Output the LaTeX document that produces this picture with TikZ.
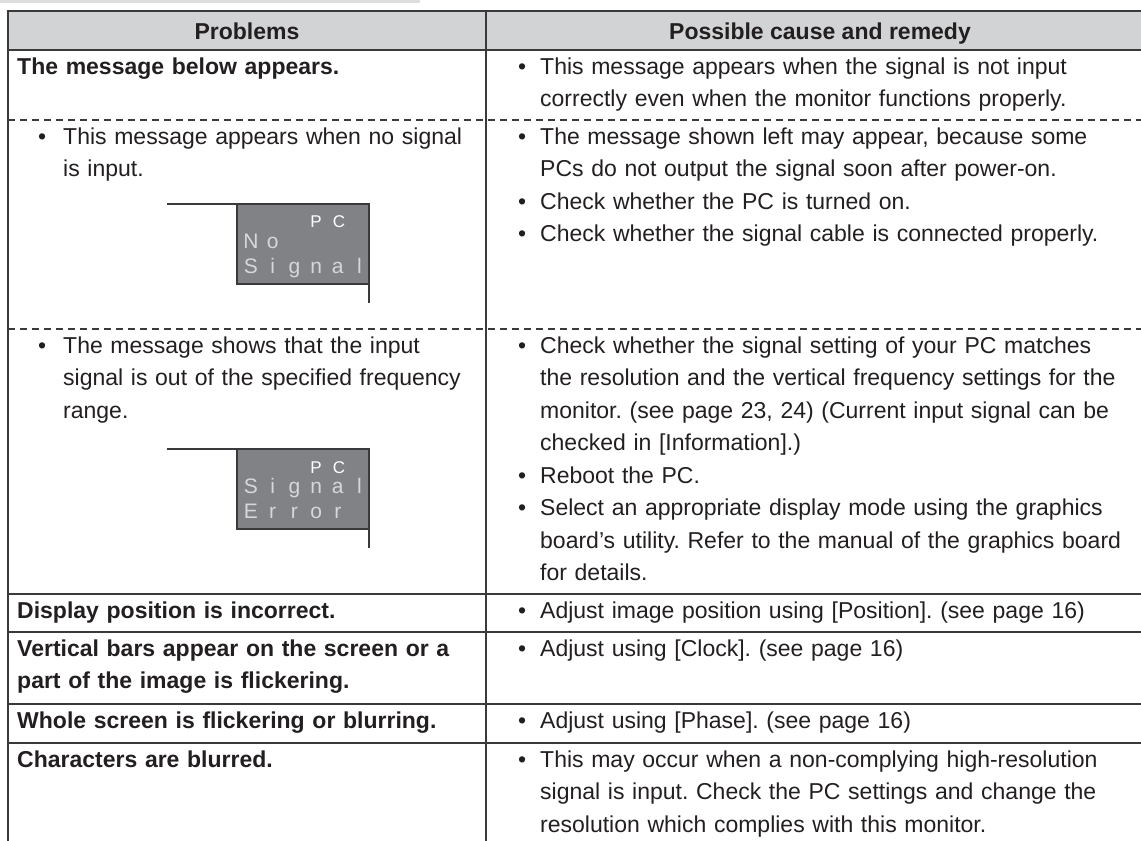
\documentclass[tikz,border=0pt]{standalone}
\usepackage{fontspec}
\setmainfont{Liberation Sans}
\frenchspacing
\definecolor{ink}{HTML}{231F20}
\definecolor{rule}{HTML}{3A3A3C}
\definecolor{headgray}{HTML}{D1D3D4}
\definecolor{topbar}{HTML}{DCDDDE}
\definecolor{lcdgray}{HTML}{808285}
\definecolor{lcdtext}{HTML}{D6D7D8}

\begin{document}
\begin{tikzpicture}[x=1pt,y=-1pt,
    cell/.style={anchor=base west,inner sep=0pt,text=ink,align=left,text width=640pt,
      font=\fontsize{23}{32.5}\selectfont},
    celltitle/.style={cell,font=\fontsize{23}{32.5}\selectfont\bfseries},
    headtext/.style={anchor=base,inner sep=0pt,text=ink,font=\fontsize{23}{28}\selectfont\bfseries},
    dot/.style={anchor=base west,inner sep=0pt,text=ink,font=\fontsize{23}{28}\selectfont},
    solidrule/.style={draw=rule,line width=2pt},
    dashrule/.style={draw=rule,line width=1.3pt,dash pattern=on 7pt off 5pt},
    lcdch/.style={anchor=base,inner sep=0pt,text=lcdtext,font=\fontsize{21}{21}\selectfont},
    lcdpc/.style={anchor=base,inner sep=0pt,text=white,font=\fontsize{17}{17}\selectfont}]
    \useasboundingbox (0,0) rectangle (1141,841);

    % Draw the grey strip above the table
    \fill[topbar] (0,0) rectangle (420,3);

    % Draw the header row
    \fill[headgray] (8,11) rectangle (1141,50);
    \node[headtext] (hprob) at (247,39) {Problems};
    \node[headtext] (hcause) at (820,39) {Possible cause and remedy};

    % Draw the table frame and the row lines
    \draw[rule,line width=2.5pt] (1141,11) -- (8,11) -- (8,841);
    \draw[solidrule] (8,50) -- (1141,50);
    \draw[rule,line width=1.8pt] (486,11) -- (486,841);
    \draw[dashrule] (8,120) -- (1141,120);
    \draw[dashrule] (8,329) -- (1141,329);
    \draw[solidrule] (8,594) -- (1141,594);
    \draw[solidrule] (8,632) -- (1141,632);
    \draw[solidrule] (8,704) -- (1141,704);
    \draw[solidrule] (8,743) -- (1141,743);

    % Row: the message below appears
    \node[celltitle] (p1) at (17,74) {The message below appears.};
    \node[dot] (b1) at (518,74) {•};
    \node[cell] (c1) at (540,74) {This message appears when the signal is not input\\
      correctly even when the monitor functions properly.};

    % Row: no signal
    \node[dot] (b2l) at (38,144) {•};
    \node[cell] (p2) at (63,144) {This message appears when no signal\\is input.};
    \node[dot] (b2a) at (518,144) {•};
    \node[cell] (c2a) at (540,144) {The message shown left may appear, because some\\
      PCs do not output the signal soon after power-on.};
    \node[dot] (b2b) at (518,209) {•};
    \node[cell] (c2b) at (540,209) {Check whether the PC is turned on.};
    \node[dot] (b2c) at (518,241.5) {•};
    \node[cell] (c2c) at (540,241.5) {Check whether the signal cable is connected properly.};

    % Draw the "No Signal" screen message
    \draw[rule,line width=2.5pt] (167,204) -- (369,204);
    \draw[rule,line width=2pt,fill=lcdgray] (237,204) rectangle (369,284);
    \draw[rule,line width=2.5pt] (369,284) -- (369,303);
    \node[lcdpc] (pc1a) at (316,227) {P};
    \node[lcdpc] (pc1b) at (339,227) {C};
    \foreach \c [count=\i from 0] in {N,o}
        \node[lcdch] (nosig\i) at (251+21.7*\i,248.5) {\c};
    \foreach \c [count=\i from 0] in {S,i,g,n,a,l}
        \node[lcdch] (sigone\i) at (251+21.7*\i,273.5) {\c};

    % Row: signal out of range
    \node[dot] (b3l) at (38,353) {•};
    \node[cell] (p3) at (63,353) {The message shows that the input\\
      signal is out of the specified frequency\\range.};
    \node[dot] (b3a) at (518,353) {•};
    \node[cell] (c3a) at (540,353) {Check whether the signal setting of your PC matches\\
      the resolution and the vertical frequency settings for the\\
      monitor. (see page 23, 24) (Current input signal can be\\
      checked in [Information].)};
    \node[dot] (b3b) at (518,483) {•};
    \node[cell] (c3b) at (540,483) {Reboot the PC.};
    \node[dot] (b3c) at (518,515.5) {•};
    \node[cell] (c3c) at (540,515.5) {Select an appropriate display mode using the graphics\\
      board’s utility. Refer to the manual of the graphics board\\
      for details.};

    % Draw the "Signal Error" screen message
    \draw[rule,line width=2.5pt] (167,449) -- (369,449);
    \draw[rule,line width=2pt,fill=lcdgray] (237,449) rectangle (369,529);
    \draw[rule,line width=2.5pt] (369,529) -- (369,548);
    \node[lcdpc] (pc2a) at (316,473) {P};
    \node[lcdpc] (pc2b) at (339,473) {C};
    \foreach \c [count=\i from 0] in {S,i,g,n,a,l}
        \node[lcdch] (sigtwo\i) at (251+21.7*\i,493.5) {\c};
    \foreach \c [count=\i from 0] in {E,r,r,o,r}
        \node[lcdch] (err\i) at (251+21.7*\i,518.5) {\c};

    % Rows with one remedy each
    \node[celltitle] (p4) at (17,618) {Display position is incorrect.};
    \node[dot] (b4) at (518,618) {•};
    \node[cell] (c4) at (540,618) {Adjust image position using [Position]. (see page 16)};

    \node[celltitle] (p5) at (17,656) {\makebox[460pt][s]{Vertical bars appear on the screen or a}\\
      part of the image is flickering.};
    \node[dot] (b5) at (518,656) {•};
    \node[cell] (c5) at (540,656) {Adjust using [Clock]. (see page 16)};

    \node[celltitle] (p6) at (17,728) {Whole screen is flickering or blurring.};
    \node[dot] (b6) at (518,728) {•};
    \node[cell] (c6) at (540,728) {Adjust using [Phase]. (see page 16)};

    \node[celltitle] (p7) at (17,767) {Characters are blurred.};
    \node[dot] (b7) at (518,767) {•};
    \node[cell] (c7) at (540,767) {This may occur when a non-complying high-resolution\\
      signal is input. Check the PC settings and change the\\
      resolution which complies with this monitor.};
\end{tikzpicture}
\end{document}
